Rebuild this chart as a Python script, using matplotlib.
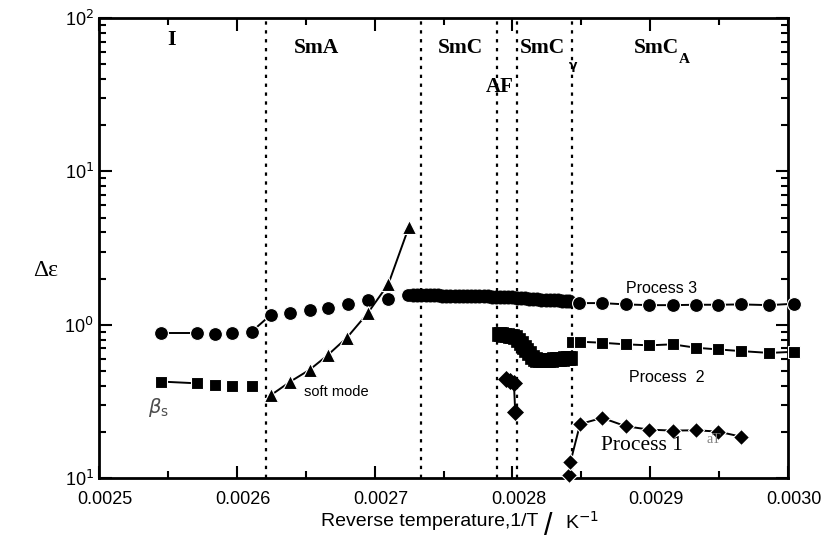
import matplotlib
matplotlib.use('Agg')
import matplotlib.pyplot as plt
import matplotlib.transforms as mtransforms
from matplotlib.ticker import FixedLocator, FixedFormatter, MultipleLocator, LogLocator, NullFormatter

# Process 3 (circles)
p3_x_iso = [0.002545, 0.002571, 0.002584, 0.002597, 0.002611]
p3_y_iso = [0.881, 0.881, 0.868, 0.889, 0.903]
p3_x_sma = [0.002625, 0.002639, 0.002653, 0.002666, 0.002681, 0.002695, 0.002710, 0.002724]
p3_y_sma = [1.165, 1.195, 1.251, 1.290, 1.371, 1.442, 1.464, 1.573]
p3_x_smc = [0.002728, 0.002731, 0.002734, 0.002737, 0.002740, 0.002743, 0.002746, 0.002749,
            0.002752, 0.002755, 0.002758, 0.002761, 0.002764, 0.002767, 0.002770, 0.002773,
            0.002776, 0.002779, 0.002782, 0.002785, 0.002788, 0.002791, 0.002794, 0.002797,
            0.002800, 0.002803, 0.002806, 0.002809, 0.002812, 0.002815, 0.002818, 0.002821,
            0.002824, 0.002827, 0.002830, 0.002833, 0.002836, 0.002839, 0.002841]
p3_y_smc = [1.57, 1.57, 1.57, 1.56, 1.56, 1.56, 1.56, 1.55, 1.55, 1.55, 1.55, 1.54, 1.54, 1.54,
            1.54, 1.53, 1.53, 1.53, 1.53, 1.52, 1.52, 1.52, 1.51, 1.51, 1.51, 1.50, 1.50, 1.49,
            1.48, 1.47, 1.47, 1.46, 1.45, 1.45, 1.44, 1.44, 1.43, 1.43, 1.42]
p3_x_sca = [0.002848, 0.002865, 0.002882, 0.002899, 0.002916, 0.002933, 0.002949, 0.002966, 0.002986, 0.003004]
p3_y_sca = [1.384, 1.384, 1.357, 1.342, 1.342, 1.350, 1.350, 1.357, 1.342, 1.371]

# Process 2 (squares)
p2_x_iso = [0.002545, 0.002571, 0.002584, 0.002597, 0.002611]
p2_y_iso = [0.426, 0.415, 0.405, 0.401, 0.399]
p2_x_mid = [0.002790, 0.002792, 0.002794, 0.002796, 0.002798, 0.002800, 0.002802, 0.002804,
            0.002806, 0.002808, 0.002810, 0.002812, 0.002814, 0.002816, 0.002818, 0.002820,
            0.002822, 0.002824, 0.002826, 0.002828, 0.002830, 0.002832, 0.002834, 0.002836,
            0.002838, 0.002840, 0.002842]
p2_y_mid = [0.87, 0.87, 0.86, 0.86, 0.85, 0.84, 0.83, 0.80, 0.76, 0.72, 0.68, 0.65, 0.62, 0.60,
            0.59, 0.59, 0.59, 0.59, 0.59, 0.59, 0.60, 0.60, 0.60, 0.60, 0.61, 0.61, 0.61]
p2_x_sca = [0.002843, 0.002849, 0.002865, 0.002882, 0.002899, 0.002916, 0.002933, 0.002949, 0.002966, 0.002986, 0.003004]
p2_y_sca = [0.775, 0.775, 0.763, 0.745, 0.734, 0.745, 0.708, 0.690, 0.673, 0.655, 0.666]

# Process 1 (diamonds)
p1_x_af = [0.002795, 0.002798, 0.002801, 0.002802]
p1_y_af = [0.446, 0.432, 0.419, 0.269]
p1_x_sca = [0.002841, 0.002842, 0.002849, 0.002865, 0.002882, 0.002899, 0.002916, 0.002933, 0.002949, 0.002966]
p1_y_sca = [0.104, 0.127, 0.225, 0.247, 0.218, 0.207, 0.204, 0.205, 0.201, 0.186]

# Soft mode (triangles)
sm_x = [0.002625, 0.002639, 0.002653, 0.002666, 0.002680, 0.002695, 0.002710, 0.002725]
sm_y = [0.348, 0.426, 0.509, 0.633, 0.824, 1.188, 1.840, 4.366]

# phase boundaries
boundaries = [0.002621, 0.002734, 0.002789, 0.002803, 0.002843]

xtick_vals = [0.0025, 0.0026, 0.0027, 0.0028, 0.0029, 0.0030]
xtick_text = ['0.0025', '0.0026', '0.0027', '0.0028', '0.0029', '0.0030']
ytick_vals = [0.1, 1, 10, 100]
ytick_text = [r'10$^1$', r'10$^0$', r'10$^1$', r'10$^2$']

plt.rcParams['font.family'] = ['Liberation Sans', 'DejaVu Sans']
fig = plt.figure(figsize=(8.29, 5.47), dpi=100)
ax = fig.add_axes([0.119, 0.126, 0.832, 0.841])
ax.set_yscale('log')
ax.set_xlim(0.0025, 0.0030)
ax.set_ylim(0.1, 100)

for b in boundaries:
    ax.axvline(b, color='black', linestyle=(0, (1.5, 2.5)), linewidth=1.6, zorder=1)

kw = dict(color='black', linewidth=1.4, markeredgecolor='white', markeredgewidth=0.8, clip_on=False, zorder=3)
dense = dict(color='black', linewidth=1.4, markeredgecolor='black', markeredgewidth=0.5, clip_on=False, zorder=3)

# isotropic phase: only some segments are joined
ax.plot(p3_x_iso, p3_y_iso, 'o', ms=10, linestyle='none', **kw)
ax.plot(p3_x_iso[:2], p3_y_iso[:2], '-', color='black', linewidth=1.4, zorder=2)
ax.plot([p3_x_iso[-1], p3_x_sma[0]], [p3_y_iso[-1], p3_y_sma[0]], '-', color='black', linewidth=1.4, zorder=2)
ax.plot(p3_x_sma, p3_y_sma, 'o', ms=10, linestyle='none', **kw)
ax.plot(p3_x_smc, p3_y_smc, 'o', ms=9.5, linestyle='-', **dense)
ax.plot(p3_x_sca, p3_y_sca, 'o', ms=10, linestyle='-', **kw)

ax.plot(p2_x_iso, p2_y_iso, 's', ms=9, linestyle='none', **kw)
ax.plot(p2_x_iso[:2], p2_y_iso[:2], '-', color='black', linewidth=1.4, zorder=2)
ax.plot(p2_x_mid, p2_y_mid, 's', ms=9.5, linestyle='-', **dense)
ax.plot(p2_x_sca, p2_y_sca, 's', ms=9, linestyle='-', **kw)

ax.plot(p1_x_af, p1_y_af, 'D', ms=8, linestyle='-', **dense)
ax.plot(p1_x_sca, p1_y_sca, 'D', ms=8, linestyle='-', **kw)

ax.plot(sm_x, sm_y, '^', ms=10, linestyle='-', **kw)

# axes styling
for s in ax.spines.values():
    s.set_linewidth(2)
ax.set_xticks(xtick_vals)
ax.set_xticklabels(xtick_text)
ax.xaxis.set_minor_locator(MultipleLocator(0.00005))
ax.yaxis.set_major_locator(FixedLocator(ytick_vals))
ax.yaxis.set_major_formatter(FixedFormatter(ytick_text))
ax.yaxis.set_minor_locator(LogLocator(base=10, subs=range(2, 10)))
ax.yaxis.set_minor_formatter(NullFormatter())
ax.tick_params(which='both', direction='in', top=True, right=True, labelsize=13, width=1.5)
ax.tick_params(which='major', length=9)
ax.tick_params(which='minor', length=5)
ax.tick_params(axis='x', which='major', pad=9)
shift = mtransforms.ScaledTranslation(6 / 100, 0, fig.dpi_scale_trans)
for lab in ax.get_xticklabels():
    lab.set_transform(lab.get_transform() + shift)

# phase labels
serif = ['Liberation Serif', 'DejaVu Serif']
xt = ax.get_xaxis_transform()
ty = 0.935
ax.text(0.002553, 0.952, 'I', transform=xt, family=serif, weight='bold', fontsize=16, ha='center', va='center')
ax.text(0.002658, ty, 'SmA', transform=xt, family=serif, weight='bold', fontsize=15.5, ha='center', va='center')
ax.text(0.002762, ty, 'SmC', transform=xt, family=serif, weight='bold', fontsize=15.5, ha='center', va='center')
ax.text(0.002791, 0.85, 'AF', transform=xt, family=serif, weight='bold', fontsize=15, ha='center', va='center')
ax.text(0.002822, ty, 'SmC', transform=xt, family=serif, weight='bold', fontsize=15.5, ha='center', va='center')
ax.text(0.002844, 0.897, 'γ', transform=xt, family=['DejaVu Sans'], weight='bold', fontsize=9, ha='center', va='center')
ax.text(0.002904, ty, 'SmC', transform=xt, family=serif, weight='bold', fontsize=15.5, ha='center', va='center')
ax.text(0.0029245, 0.91, 'A', transform=xt, family=serif, weight='bold', fontsize=11, ha='center', va='center')

# annotations
ax.text(0.002908, 1.73, 'Process 3', fontsize=11.5, ha='center', va='center')
ax.text(0.002912, 0.45, 'Process  2', fontsize=11.5, ha='center', va='center')
ax.text(0.002894, 0.163, 'Process 1', family=serif, fontsize=15.5, ha='center', va='center')
ax.text(0.002946, 0.179, 'aT', family=serif, fontsize=10, color='0.5', ha='center', va='center')
ax.text(0.002672, 0.366, 'soft mode', fontsize=10.5, ha='center', va='center')
ax.text(0.002543, 0.29, r'$\beta_{\mathrm{s}}$', fontsize=14, color='0.3', ha='center', va='center')

fig.text(0.055, 0.505, 'Δε', family=serif, fontsize=17, ha='center', va='center')
fig.text(0.649, 0.046, 'Reverse temperature,1/T', fontsize=14, ha='right', va='center')
fig.text(0.656, 0.036, '/', fontsize=22, ha='left', va='center')
fig.text(0.681, 0.046, r'K$^{\mathrm{-1}}$', fontsize=14, ha='left', va='center')

fig.savefig('out.png', dpi=100, facecolor='white')
